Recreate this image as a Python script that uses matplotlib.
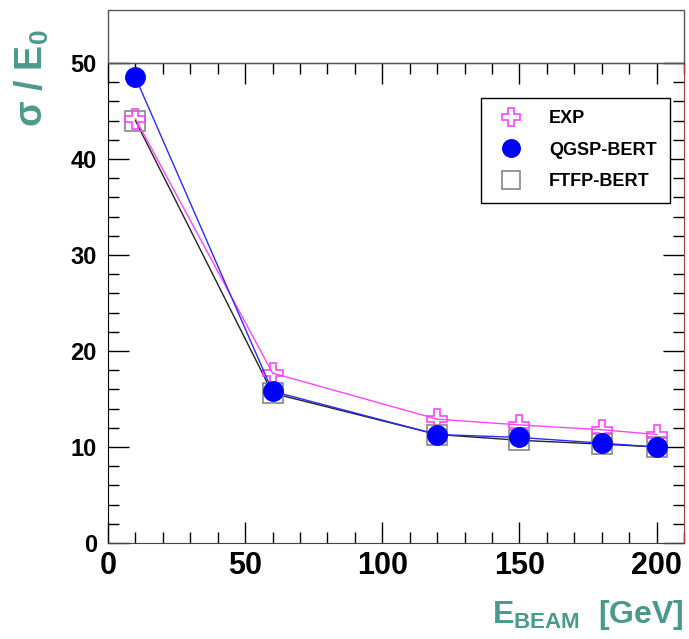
import matplotlib
matplotlib.use("Agg")
from matplotlib import pyplot as plt
from matplotlib.patches import Rectangle
from matplotlib.ticker import MultipleLocator

# beam energies [GeV]
energy = [10, 60, 120, 150, 180, 200]
# sigma / E0 values
exp_vals = [44.2, 17.7, 12.9, 12.3, 11.8, 11.3]
qgsp_vals = [48.5, 15.8, 11.3, 11.0, 10.4, 10.0]
ftfp_vals = [44.0, 15.6, 11.3, 10.7, 10.3, 10.0]

teal = '#4a9a8c'
plt.rcParams['font.family'] = ['Liberation Sans', 'DejaVu Sans']
plt.rcParams['mathtext.fontset'] = 'custom'
plt.rcParams['mathtext.rm'] = 'Liberation Sans:bold'
plt.rcParams['mathtext.bf'] = 'Liberation Sans:bold'

fig = plt.figure(figsize=(6.89, 6.39), dpi=100)
ax = fig.add_axes([108/689, 96/639, 576/689, 480/639])

ax.plot(energy, exp_vals, color='#ff44ff', lw=1.0, marker='P', ms=15,
        mfc='none', mec='#ff44ff', mew=1.2, label='EXP', zorder=3)
ax.plot(energy, qgsp_vals, color='#2a2aff', lw=1.0, marker='o', ms=14,
        mfc='#0000ff', mec='#0000ff', label='QGSP-BERT', zorder=4)
ax.plot(energy, ftfp_vals, color='#222222', lw=1.0, marker='s', ms=15,
        mfc='none', mec='#888888', mew=1.2, label='FTFP-BERT', zorder=2)

ax.set_xlim(0, 210)
ax.set_ylim(0, 50)
ax.xaxis.set_major_locator(MultipleLocator(50))
ax.xaxis.set_minor_locator(MultipleLocator(10))
ax.yaxis.set_major_locator(MultipleLocator(10))
ax.yaxis.set_minor_locator(MultipleLocator(2))
ax.tick_params(which='both', direction='in', top=True, right=True)
ax.tick_params(which='major', length=15, width=1)
ax.tick_params(which='minor', length=8, width=1)
ax.tick_params(axis='x', labelsize=22, pad=6)
ax.tick_params(axis='y', labelsize=17, pad=8)
for lab in ax.get_xticklabels() + ax.get_yticklabels():
    lab.set_fontweight('bold')

ax.spines['right'].set_color('#a04040')
ax.spines['bottom'].set_color('#703030')

leg = ax.legend(loc='upper right', bbox_to_anchor=(0.975, 0.928), fancybox=False,
                edgecolor='black', framealpha=1, prop={'weight': 'bold', 'size': 13},
                borderpad=0.7, labelspacing=0.8, handlelength=2.0, handletextpad=1.1,
                borderaxespad=0, markerscale=0.9)
leg.get_frame().set_linewidth(1.0)
for h in leg.legend_handles:
    h.set_linestyle('none')

# empty box above the plot frame
fig.patches.append(Rectangle((108/689, 576/639), 576/689, 53/639, transform=fig.transFigure,
                             fill=False, edgecolor='#555555', lw=1.0))

fig.text(32/689, 1 - 78/639, 'σ / E$_0$', rotation=90, color=teal,
         fontsize=27, fontweight='bold', ha='center', va='center')
fig.text(684/689, 1 - 615/639, r'E$_{\mathbf{BEAM}}$  [GeV]', color=teal,
         fontsize=23, fontweight='bold', ha='right', va='center')

plt.savefig('out.png', dpi=100)
